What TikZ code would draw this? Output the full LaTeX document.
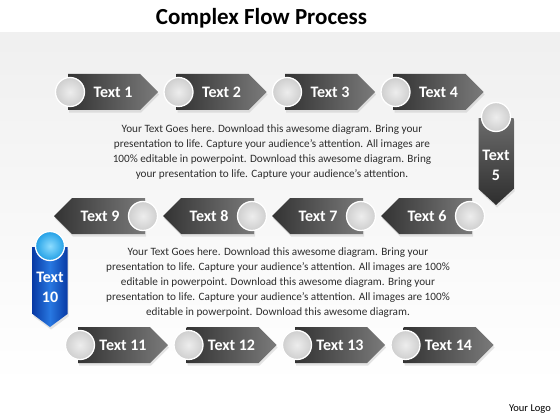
\documentclass[tikz,border=0pt]{standalone}
\usepackage{fontspec}
\setmainfont{Carlito}
\usetikzlibrary{shadows}
\definecolor{txtgray}{RGB}{45,45,45}
\definecolor{blueL}{RGB}{40,120,225}
\definecolor{blueD}{RGB}{8,58,165}
\definecolor{cyanIn}{RGB}{140,220,255}
\definecolor{cyanOut}{RGB}{35,160,230}
\tikzset{
  arrowbody/.style={left color=black!80, right color=black!52, drop shadow={opacity=0.2, shadow xshift=1pt, shadow yshift=-2.5pt}},
  varrowbody/.style={top color=black!58, bottom color=black!82, drop shadow={opacity=0.2, shadow xshift=1pt, shadow yshift=-2.5pt}},
  bluebody/.style={left color=blueD, right color=blueD, middle color=blueL, drop shadow={opacity=0.2, shadow xshift=1pt, shadow yshift=-2.5pt}},
  ball/.style={circle, minimum size=29pt, inner sep=0pt, draw=white, line width=1.3pt, inner color=gray!14, outer color=gray!38},
  blueball/.style={circle, minimum size=29pt, inner sep=0pt, draw=white, line width=1.3pt, inner color=cyanIn, outer color=cyanOut},
  lbl/.style={text=white, font=\fontsize{16}{20}\selectfont\bfseries, align=center, inner sep=0pt},
  para/.style={text=txtgray, font=\fontsize{11.2}{15}\selectfont, align=center, inner sep=0pt}
}
\newcommand\myR[4]{%
  \shade[arrowbody] (#2-2,#3-18) -- (#2+70,#3-18) -- (#2+88,#3) -- (#2+70,#3+18) -- (#2-2,#3+18) -- cycle;
  \node[ball] (#1c) at (#2,#3) {};
  \node[lbl] (#1) at (#2+43,#3) {#4};}
\newcommand\myL[4]{%
  \shade[arrowbody] (#2+2,#3-18) -- (#2-71,#3-18) -- (#2-89,#3) -- (#2-71,#3+18) -- (#2+2,#3+18) -- cycle;
  \node[ball] (#1c) at (#2,#3) {};
  \node[lbl] (#1) at (#2-43,#3) {#4};}
% name, cx, cy, length, depth, labely, label, bodystyle, ballstyle
\newcommand\myD[9]{%
  \shade[#8] (#2-17.5,#3+1) -- (#2+17.5,#3+1) -- (#2+17.5,#3+#4-#5) -- (#2,#3+#4) -- (#2-17.5,#3+#4-#5) -- cycle;
  \node[#9] (#1c) at (#2,#3) {};
  \node[lbl] (#1) at (#2,#6) {#7};}
\begin{document}
\begin{tikzpicture}[x=1pt,y=-1pt]
\useasboundingbox (0,0) rectangle (560,420);
\fill[white] (0,0) rectangle (560,420);
\shade[top color=gray!12, bottom color=white] (0,33) rectangle (560,385);
\node[font=\fontsize{23}{26}\selectfont\bfseries, inner sep=0pt] (title) at (261.5,18) {Complex Flow Process};
% row 1
\myR{t1}{70}{92}{Text 1}
\myR{t2}{178.5}{92}{Text 2}
\myR{t3}{287}{92}{Text 3}
\myR{t4}{395.5}{92}{Text 4}
% text 5
\myD{t5}{496}{117}{88}{16}{165}{Text\\5}{varrowbody}{ball}
% row 2
\myL{t6}{470}{216}{Text 6}
\myL{t7}{361}{216}{Text 7}
\myL{t8}{252}{216}{Text 8}
\myL{t9}{143}{216}{Text 9}
% text 10
\myD{t10}{50}{246}{81}{13}{287}{Text\\10}{bluebody}{blueball}
% row 3
\myR{t11}{80}{345}{Text 11}
\myR{t12}{188.5}{345}{Text 12}
\myR{t13}{297}{345}{Text 13}
\myR{t14}{405.5}{345}{Text 14}
% paragraphs
\node[para] (p1) at (272,152.5) {Your Text Goes here. Download this awesome diagram. Bring your\\presentation to life. Capture your audience’s attention. All images are\\100\% editable in powerpoint. Download this awesome diagram. Bring\\your presentation to life. Capture your audience’s attention.};
\node[para] (p2) at (278,283) {Your Text Goes here. Download this awesome diagram. Bring your\\presentation to life. Capture your audience’s attention. All images are 100\%\\editable in powerpoint. Download this awesome diagram. Bring your\\presentation to life. Capture your audience’s attention. All images are 100\%\\editable in powerpoint. Download this awesome diagram.};
\node[font=\fontsize{10.5}{12}\selectfont, inner sep=0pt] (logo) at (530,409) {Your Logo};
\end{tikzpicture}
\end{document}
